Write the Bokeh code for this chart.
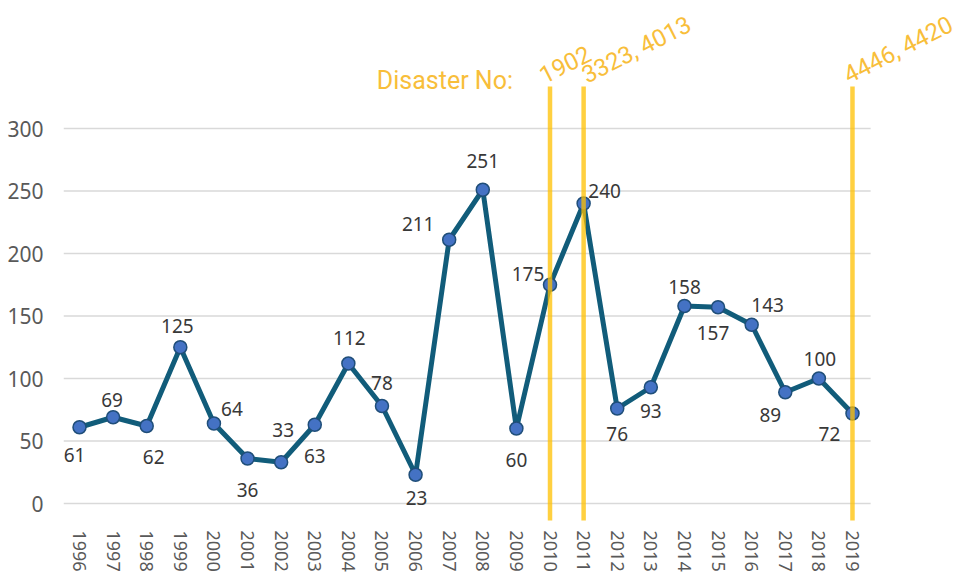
from bokeh.plotting import figure
from bokeh.models import ColumnDataSource, Range1d, FixedTicker
from bokeh.core.properties import value
from bokeh.embed import file_html
from bokeh.resources import INLINE

# ---- data ----
years = list(range(1996, 2020))
counts = [61, 69, 62, 125, 64, 36, 33, 63, 112, 78, 23, 211, 251, 60,
          175, 240, 76, 93, 158, 157, 143, 89, 100, 72]
year_labels = [str(y) for y in years]
y_ticks = [0, 50, 100, 150, 200, 250, 300]
disaster_years = [2010, 2011, 2019]
disaster_numbers = ["1902", "3323, 4013", "4446, 4420"]
disaster_title = "Disaster No:"

# label placement (pixels) relative to each point
label_dx = [-5, -1, 7, -3, 18, 0, 2, 0, 1, 0, 1, -31, 0, 0, -22, 21, 0, 0, 0, -5, 16, -15, 1, -23]
label_dy = [28, -17, 31, -21, -15, 31, -32, 31, -26, -23, 23, -16, -29, 31, -11, -13, 25, 24, -19, 26, -20, 23, -20, 20]

FONT = "Noto Sans"
ORANGE = "#FFC000"
ORANGE_TEXT = "#F8BE3A"

p = figure(width=960, height=579, output_backend="svg", toolbar_location=None,
           x_range=Range1d(1995.524, 2022.214), y_range=Range1d(-13.6, 402.4),
           min_border_left=63, min_border_right=0, min_border_top=0, min_border_bottom=59)
p.outline_line_color = None
p.xgrid.visible = False
p.ygrid.visible = False

# gridlines (only over the data region)
p.segment(x0=[1995.524] * len(y_ticks), x1=[2019.54] * len(y_ticks), y0=y_ticks, y1=y_ticks,
          line_color="#D9D9D9", line_width=1.6)

src = ColumnDataSource(dict(x=years, y=counts, lab=[str(c) for c in counts],
                            dx=label_dx, dy=label_dy))
p.line("x", "y", source=src, line_color="#115C7A", line_width=5, line_join="round")
p.scatter("x", "y", source=src, size=13, fill_color="#4472C4",
          line_color="#1F4E79", line_width=1.5)
p.text("x", "y", text="lab", source=src, x_offset="dx", y_offset="dy",
       text_align="center", text_baseline="middle", text_font=value(FONT),
       text_font_size="19px", text_color="#383838")

# disaster markers
p.segment(x0=disaster_years, x1=disaster_years, y0=[-30] * 3, y1=[333.6] * 3,
          line_color=ORANGE, line_alpha=0.75, line_width=4.5)
p.text(x=disaster_years, y=[341.5] * 3, text=disaster_numbers,
       x_offset=[-9, 0, -7], angle=0.47, text_align="left", text_baseline="alphabetic",
       text_font=value("Roboto"), text_font_size="24px", text_color=ORANGE_TEXT)
p.text(x=[disaster_years[0]], y=[338.4], text=[disaster_title], x_offset=[-37],
       text_align="right", text_baseline="alphabetic",
       text_font=value("Roboto"), text_font_size="25px", text_color=ORANGE_TEXT)

# axes
p.yaxis.ticker = FixedTicker(ticks=y_ticks)
p.yaxis.axis_line_color = None
p.yaxis.major_tick_line_color = None
p.yaxis.minor_tick_line_color = None
p.yaxis.major_tick_out = 0
p.yaxis.major_tick_in = 0
p.yaxis.major_label_standoff = 20
p.yaxis.major_label_text_font = FONT
p.yaxis.major_label_text_font_size = "21px"
p.yaxis.major_label_text_color = "#595959"

p.xaxis.ticker = FixedTicker(ticks=years)
p.xaxis.major_label_overrides = {y: l for y, l in zip(years, year_labels)}
p.xaxis.major_label_orientation = "vertical"
p.xaxis.axis_line_color = None
p.xaxis.major_tick_line_color = None
p.xaxis.minor_tick_line_color = None
p.xaxis.major_tick_out = 0
p.xaxis.major_tick_in = 0
p.xaxis.major_label_standoff = 10
p.xaxis.major_label_text_font = FONT
p.xaxis.major_label_text_font_size = "18px"
p.xaxis.major_label_text_color = "#595959"

open("out.html", "w").write(file_html(p, INLINE))
